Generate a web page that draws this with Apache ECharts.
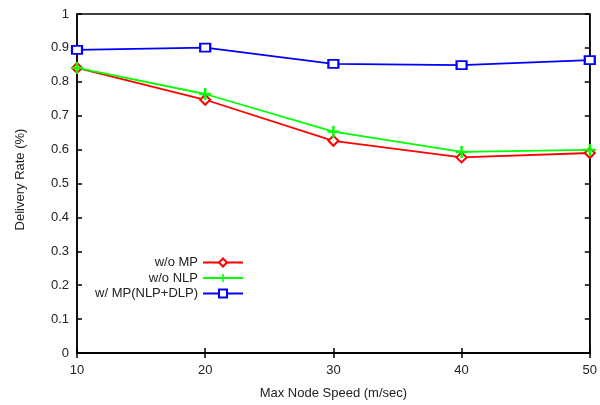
<!DOCTYPE html>
<html><head><meta charset="utf-8">
<script src="https://cdn.jsdelivr.net/npm/echarts@6/dist/echarts.min.js"></script>
<style>html,body{margin:0;padding:0;background:#fff}#c{width:600px;height:405px}</style>
</head><body><div id="c"></div>
<script>
const speeds = [10, 20, 30, 40, 50];
const woMP = [0.841, 0.747, 0.626, 0.577, 0.590];
const woNLP = [0.841, 0.764, 0.653, 0.593, 0.599];
const wMP = [0.894, 0.901, 0.853, 0.849, 0.864];
const seriesNames = ['w/o MP', 'w/o NLP', 'w/ MP(NLP+DLP)'];
const colors = ['#ff0000', '#00ff00', '#0000ff'];
const plusPath = 'path://M4,0H6V4H10V6H6V10H4V6H0V4H4Z';

const font = 'Liberation Sans, Arial, sans-serif';
const chart = echarts.init(document.getElementById('c'), null, {renderer: 'canvas'});

function pairs(vals) { return speeds.map((s, i) => [s, vals[i]]); }

const tickStyle = {show: true, inside: true, length: 5, lineStyle: {color: '#000', width: 1.5}};

const legends = seriesNames.map((n, i) => ({
  data: [n], right: 356, top: 256 + i * 15.5, align: 'right', orient: 'vertical',
  itemWidth: 40, itemHeight: 10, itemGap: 0, padding: 0,
  textStyle: {fontFamily: font, fontSize: 13, color: '#222', padding: [0, 0, 0, 0]}
}));

chart.setOption({
  animation: false,
  backgroundColor: '#fff',
  grid: {left: 77, right: 7, top: 14, bottom: 51, show: true, borderColor: '#000', borderWidth: 1.5},
  legend: legends,
  xAxis: [{
    type: 'value', min: 10, max: 50, interval: 10, position: 'bottom',
    name: 'Max Node Speed (m/sec)', nameLocation: 'middle', nameGap: 34,
    nameTextStyle: {fontFamily: font, fontSize: 13, color: '#222'},
    axisLine: {show: true, lineStyle: {color: '#000', width: 1.5}},
    axisTick: tickStyle, splitLine: {show: false},
    axisLabel: {fontFamily: font, fontSize: 13, color: '#222', margin: 11}
  }, {
    type: 'value', min: 10, max: 50, interval: 10, position: 'top',
    axisLine: {show: true, lineStyle: {color: '#000', width: 1.5}},
    axisTick: tickStyle, splitLine: {show: false}, axisLabel: {show: false}
  }],
  yAxis: [{
    type: 'value', min: 0, max: 1, interval: 0.1, position: 'left',
    name: 'Delivery Rate (%)', nameLocation: 'middle', nameGap: 50,
    nameTextStyle: {fontFamily: font, fontSize: 13, color: '#222', padding: [0, 0, 0, 8]},
    axisLine: {show: true, lineStyle: {color: '#000', width: 1.5}},
    axisTick: tickStyle, splitLine: {show: false},
    axisLabel: {fontFamily: font, fontSize: 13, color: '#222', margin: 8,
      formatter: v => (Math.round(v * 10) / 10).toString()}
  }, {
    type: 'value', min: 0, max: 1, interval: 0.1, position: 'right',
    axisLine: {show: true, lineStyle: {color: '#000', width: 1.5}},
    axisTick: tickStyle, splitLine: {show: false}, axisLabel: {show: false}
  }],
  series: [
    {name: seriesNames[0], type: 'line', data: pairs(woMP), symbol: 'emptyDiamond', symbolSize: 10,
     lineStyle: {color: colors[0], width: 1.8}, itemStyle: {color: colors[0], borderWidth: 1.6}},
    {name: seriesNames[1], type: 'line', data: pairs(woNLP), symbol: plusPath, symbolSize: 12,
     lineStyle: {color: colors[1], width: 1.8}, itemStyle: {color: colors[1]}},
    {name: seriesNames[2], type: 'line', data: pairs(wMP), symbol: 'emptyRect', symbolSize: [10, 8],
     lineStyle: {color: colors[2], width: 1.8}, itemStyle: {color: colors[2], borderWidth: 1.6}}
  ]
});
</script></body></html>
